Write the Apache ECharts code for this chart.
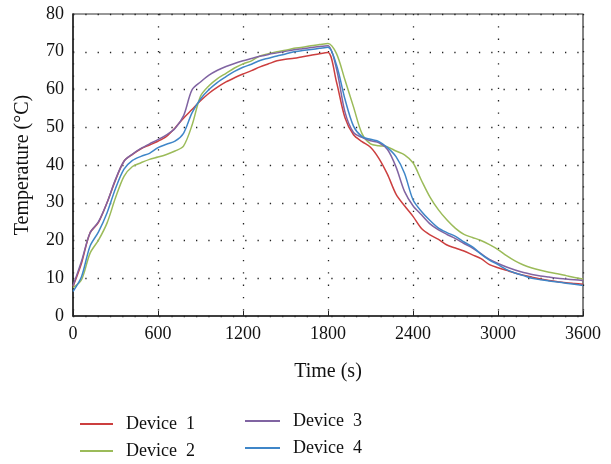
<!DOCTYPE html>
<html>
<head>
<meta charset="utf-8">
<script src="https://cdn.jsdelivr.net/npm/echarts@6/dist/echarts.min.js"></script>
<style>html,body{margin:0;padding:0;background:#fff}#c{width:611px;height:464px}</style>
</head>
<body>
<div id="c"></div>
<script>
const times = [0,60,120,180,240,300,360,420,480,540,600,660,720,780,840,900,960,1020,1080,1140,1200,1260,1320,1380,1440,1500,1560,1620,1680,1740,1800,1860,1920,1980,2040,2100,2160,2220,2280,2340,2400,2460,2520,2580,2640,2700,2760,2820,2880,2940,3000,3060,3120,3180,3240,3300,3360,3420,3480,3540,3600];
const device1 = [7.8,14.0,22,24.8,30,36,41,42.8,44.3,45.3,46.3,47.6,49.8,52.4,54.7,57,59,60.6,62,63.1,64.1,65,66,66.8,67.6,68,68.3,68.7,69.1,69.5,69.8,62,52.5,48,46.2,44.7,41.7,37.5,32.3,29.2,26.4,23.2,21.5,20.3,18.8,18,17.2,16.2,15.2,13.6,12.8,12.1,11.4,10.8,10.3,9.8,9.4,9.1,8.8,8.6,8.4];
const device2 = [7.5,9.6,16.6,20.1,24.6,31.3,37,39.6,40.6,41.5,42.1,42.8,43.7,45,50.5,58.2,61,62.9,64.3,65.7,66.8,67.6,68.9,69.5,70,70.4,70.9,71.2,71.6,71.9,72.2,69.5,62.5,55.4,48.3,45.6,45.1,44.8,43.7,42.7,40.6,35.9,31.5,28.1,25.4,23.2,21.6,20.8,20,18.9,17.6,16,14.6,13.5,12.7,12.1,11.6,11.2,10.7,10.2,9.8];
const device3 = [8,14.5,22,25,30,36.2,41,42.9,44.4,45.6,46.7,48,49.7,53,59.9,62,63.8,65.1,66.1,66.9,67.6,68.2,68.8,69.3,69.7,70.1,70.5,70.8,71.1,71.4,71.6,65.5,54,48.6,47.3,46.4,45.9,44.1,39.5,33,29.2,26.8,24.4,22.8,21.6,20.5,19.2,18,16.5,15,13.9,13,12.2,11.5,11,10.6,10.3,10,9.8,9.6,9.4];
const device4 = [6.5,10.4,18.5,22.3,27.3,33.8,38.9,41.2,42.3,43.1,44.6,45.5,46.3,48.4,53.8,57.5,60,61.9,63.4,64.8,65.9,66.7,67.7,68.3,68.9,69.4,70,70.3,70.6,70.9,71.2,66.5,57.4,50.3,47.5,46.8,46.2,44.6,42.2,37.8,30.8,27.7,25.3,23.3,22.1,21.1,19.6,18.3,16.4,14.8,13.6,12.3,11.4,10.7,10,9.6,9.3,9,8.7,8.4,8.1];
const seriesNames = ['Device 1','Device 2','Device 3','Device 4'];
const seriesColors = ['#cc3f3f','#9bbb59','#8064a2','#3f86c8'];

const allData = [device1, device2, device3, device4];
const chart = echarts.init(document.getElementById('c'), null, {renderer:'canvas'});
const font = 'Liberation Serif';
const dotted = {color:'#222', width:1.3, type:[1.3,11]};
const legendText = {fontFamily:font,fontSize:18,color:'#111',padding:[0,0,0,8]};
chart.setOption({
  animation:false,
  backgroundColor:'#fff',
  grid:{left:73,right:28,top:14,bottom:148,show:true,borderColor:'#333',borderWidth:1.2,backgroundColor:'transparent'},
  xAxis:{type:'value',min:0,max:3600,interval:600,
    name:'Time (s)',nameLocation:'middle',nameGap:46,
    nameTextStyle:{fontFamily:font,fontSize:20,color:'#111'},
    axisLine:{lineStyle:{color:'#222',width:1.5}},
    axisTick:{show:true,inside:true,length:5,lineStyle:{color:'#222'}},
    axisLabel:{fontFamily:font,fontSize:18,color:'#111',margin:9,formatter:v=>String(v)},
    splitLine:{show:true,lineStyle:dotted}},
  yAxis:{type:'value',min:0,max:80,interval:10,
    name:'Temperature (°C)',nameLocation:'middle',nameGap:40,
    nameTextStyle:{fontFamily:font,fontSize:20,color:'#111'},
    axisLine:{show:true,lineStyle:{color:'#222',width:1.5}},
    axisTick:{show:false},
    axisLabel:{fontFamily:font,fontSize:18,color:'#111',margin:9,formatter:v=>String(v)},
    splitLine:{show:true,lineStyle:dotted}},
  legend:[
    {left:80,top:415,padding:0,orient:'vertical',itemGap:9,itemWidth:33,itemHeight:2,icon:'rect',
     formatter:n=>n.replace(' ','  '),
     data:['Device 1','Device 2'],textStyle:legendText},
    {left:245,top:412,padding:0,orient:'vertical',itemGap:9,itemWidth:35,itemHeight:2,icon:'rect',
     formatter:n=>n.replace(' ','  '),
     data:['Device 3','Device 4'],textStyle:legendText}
  ],
  series: seriesNames.map((n,i)=>({
    name:n,type:'line',showSymbol:false,symbol:'none',smooth:0.3,
    lineStyle:{width:1.5,color:seriesColors[i]},itemStyle:{color:seriesColors[i]},
    data: times.map((t,k)=>[t, allData[i][k]])
  }))
});
</script>
</body>
</html>
